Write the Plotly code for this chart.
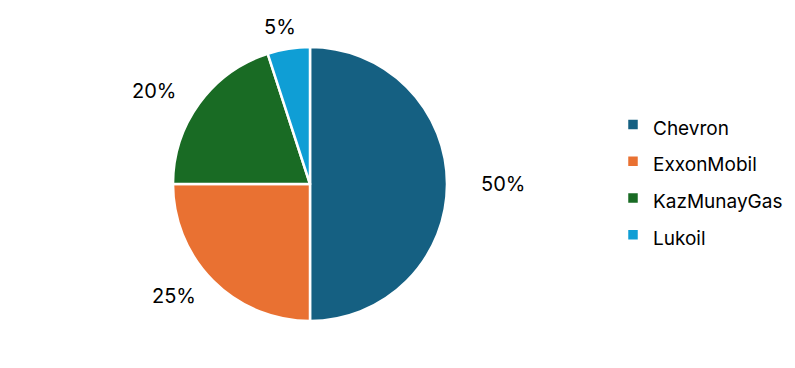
import math
import plotly.graph_objects as go

companies = ["Chevron", "ExxonMobil", "KazMunayGas", "Lukoil"]
shares = [50, 25, 20, 5]
colors = ["#156082", "#E97132", "#196B24", "#0F9ED5"]

W, H = 795, 368
CX, CY, R = 310, 184, 137      # pie centre / radius in px
FONT = "Inter, Open Sans, sans-serif"
LABEL_SIZE = 20
LAB_AX, LAB_AY = R + 56, R + 22   # label ellipse semi-axes (px)

fig = go.Figure(go.Pie(
    labels=[f"<span style='font-size:19px'>{c}</span>" for c in companies],
    values=shares,
    sort=False,
    direction="clockwise",
    rotation=0,
    marker=dict(colors=colors, line=dict(color="white", width=2.5)),
    textinfo="none",
    hoverinfo="label+percent",
    domain=dict(x=[(CX - R) / W, (CX + R) / W], y=[0.5 - R / H, 0.5 + R / H]),
    showlegend=True,
))

# percentage labels positioned from the slice mid-angles
total = sum(shares)
cum = 0
for v in shares:
    mid = (cum + v / 2) / total * 2 * math.pi
    cum += v
    txt = f"{round(100 * v / total)}%"
    px = CX + LAB_AX * math.sin(mid)
    py = CY - LAB_AY * math.cos(mid)
    fig.add_annotation(
        x=px / W, y=1 - py / H, xref="paper", yref="paper",
        text=txt, showarrow=False, xanchor="center", yanchor="middle",
        font=dict(family=FONT, size=LABEL_SIZE, color="#000000"),
    )

fig.update_layout(
    width=W, height=H,
    margin=dict(l=0, r=0, t=0, b=0),
    paper_bgcolor="white",
    plot_bgcolor="white",
    legend=dict(
        x=613 / W, y=0.5 + 4 / H, xanchor="left", yanchor="middle",
        font=dict(family=FONT, size=26, color="#000000"),
        itemwidth=30,
    ),
)

fig.write_html("out.html")
